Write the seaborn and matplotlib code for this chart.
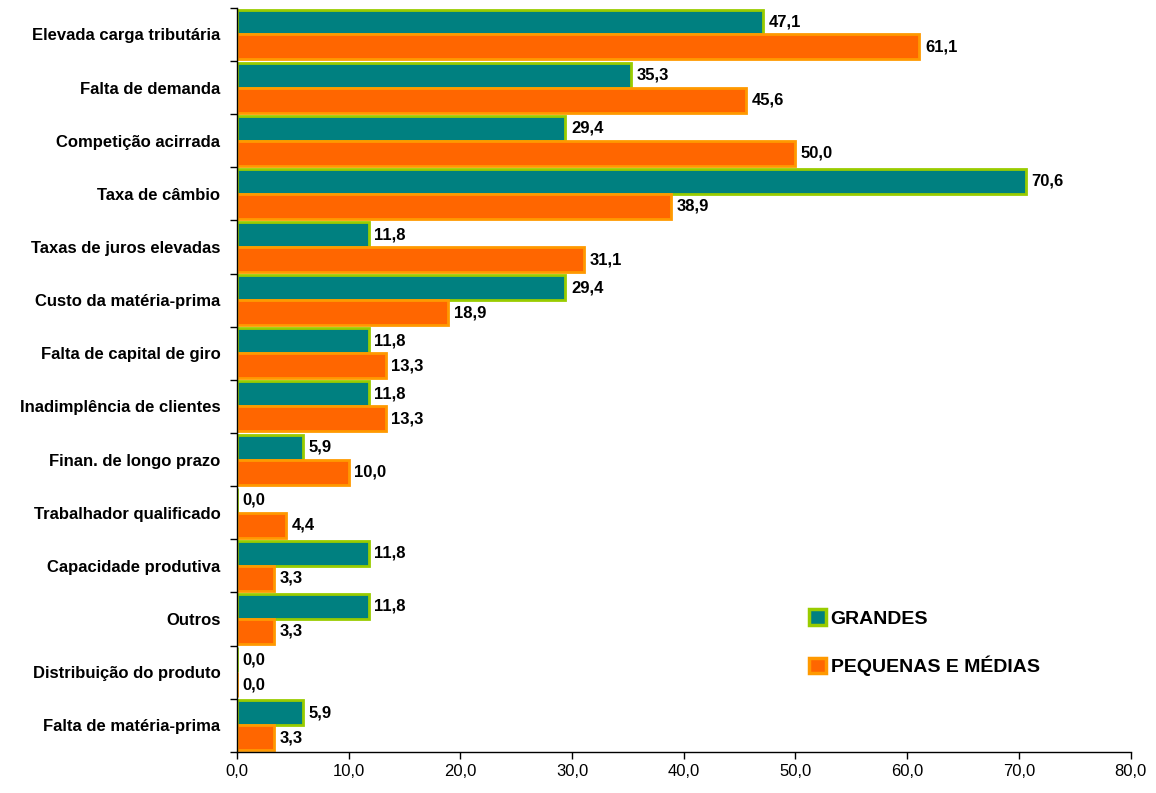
import matplotlib
matplotlib.use("Agg")
import matplotlib.pyplot as plt
import seaborn as sns
import pandas as pd
from matplotlib.patches import Patch

categories = ["Elevada carga tributária", "Falta de demanda", "Competição acirrada",
              "Taxa de câmbio", "Taxas de juros elevadas", "Custo da matéria-prima",
              "Falta de capital de giro", "Inadimplência de clientes",
              "Finan. de longo prazo", "Trabalhador qualificado",
              "Capacidade produtiva", "Outros", "Distribuição do produto",
              "Falta de matéria-prima"]
grandes = [47.1, 35.3, 29.4, 70.6, 11.8, 29.4, 11.8, 11.8, 5.9, 0.0, 11.8, 11.8, 0.0, 5.9]
pequenas = [61.1, 45.6, 50.0, 38.9, 31.1, 18.9, 13.3, 13.3, 10.0, 4.4, 3.3, 3.3, 0.0, 3.3]
series_names = ["GRANDES", "PEQUENAS E MÉDIAS"]
x_ticks = [0, 10, 20, 30, 40, 50, 60, 70, 80]

sns.set_style("white")
plt.rcParams['font.family'] = ['Liberation Sans', 'DejaVu Sans']
plt.rcParams['text.color'] = 'black'
plt.rcParams['xtick.color'] = 'black'
plt.rcParams['ytick.color'] = 'black'
plt.rcParams['axes.labelcolor'] = 'black'

df = pd.DataFrame({
    "cat": categories * 2,
    "val": grandes + pequenas,
    "serie": [series_names[0]] * len(categories) + [series_names[1]] * len(categories),
})

fills = {series_names[0]: "#008080", series_names[1]: "#FF6600"}
edges = {series_names[0]: "#99CC00", series_names[1]: "#FF9900"}

fig = plt.figure(figsize=(11.56, 7.93), dpi=100)
ax = fig.add_axes([0.205, 0.052, 0.773, 0.938])
sns.barplot(data=df, y="cat", x="val", hue="serie", orient="h",
            palette=fills, width=0.94, ax=ax, legend=False, saturation=1)

for cont, name in zip(ax.containers, series_names):
    for p in cont:
        p.set_edgecolor(edges[name])
        p.set_linewidth(2.0)
    vals = grandes if name == series_names[0] else pequenas
    ax.bar_label(cont, labels=[f"{v:.1f}".replace(".", ",") for v in vals],
                 padding=4, fontsize=12, fontweight="bold", color="black")

ax.set_xlim(0, 80)
ax.set_ylim(len(categories) - 0.5, -0.5)
ax.set_xticks(x_ticks)
ax.set_xticklabels([f"{t:.1f}".replace(".", ",") for t in x_ticks], fontsize=12)
ax.set_xlabel("")
ax.set_ylabel("")
ax.set_yticks(range(len(categories)))
ax.set_yticklabels(categories, fontsize=12, fontweight="bold")
ax.tick_params(axis="y", which="major", left=False, length=0, pad=12)
ax.set_yticks([i - 0.5 for i in range(len(categories) + 1)], minor=True)
ax.tick_params(axis="y", which="minor", left=True, length=5, width=1, direction="out", color="black")
ax.tick_params(axis="x", which="major", bottom=True, length=5, width=1, direction="out", color="black", pad=4)
for s in ["top", "right"]:
    ax.spines[s].set_visible(False)
for s in ["left", "bottom"]:
    ax.spines[s].set_color("black")
    ax.spines[s].set_linewidth(1.0)

handles = [Patch(facecolor=fills[n], edgecolor=edges[n], linewidth=2.5, label=n) for n in series_names]
fig.legend(handles=handles, loc="upper left", bbox_to_anchor=(0.685, 0.254),
           frameon=False, handlelength=0.85, handleheight=0.85, handletextpad=0.25,
           labelspacing=1.45, prop={"weight": "bold", "size": 14})

fig.savefig("out.png", dpi=100)
